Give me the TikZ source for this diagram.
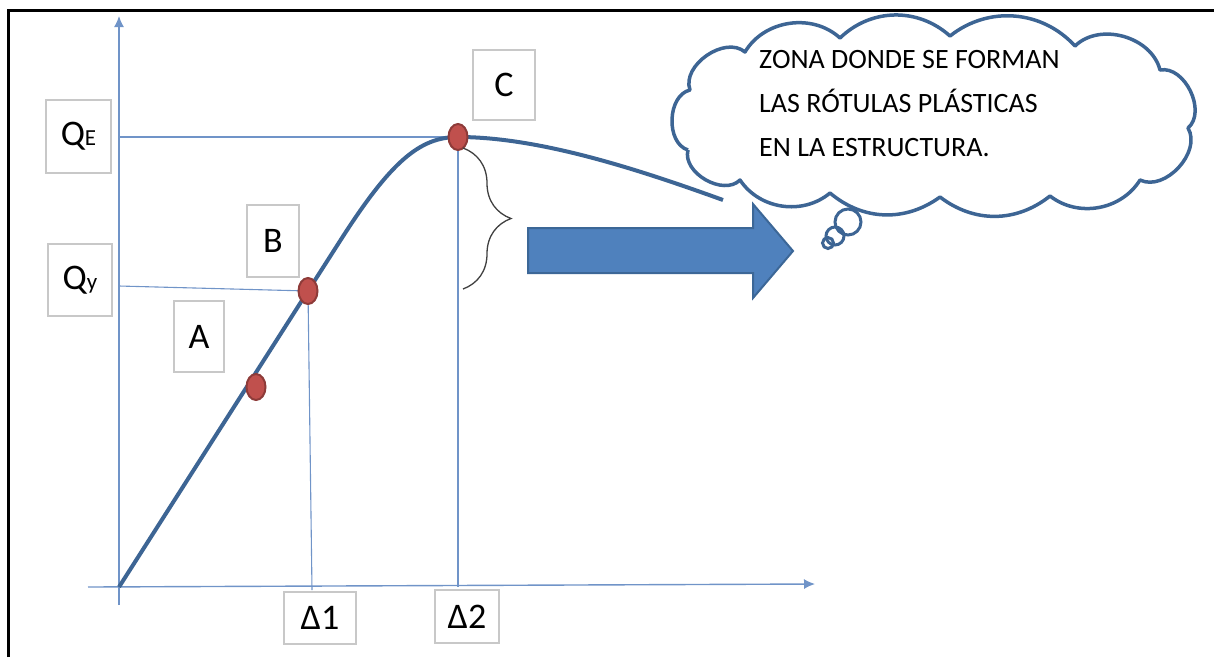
\documentclass[tikz,border=0pt]{standalone}
\usepackage{fontspec}
\setmainfont{Carlito}
\usetikzlibrary{arrows.meta,shapes.geometric,decorations.pathreplacing}
\definecolor{axisblue}{HTML}{7094C8}
\definecolor{curveblue}{HTML}{3D6594}
\definecolor{fillblue}{HTML}{4F81BD}
\definecolor{arrowedge}{HTML}{3C6797}
\definecolor{dotred}{HTML}{C0504D}
\definecolor{dotedge}{HTML}{8E3B39}
\definecolor{boxgray}{HTML}{C8C8C8}
\definecolor{bracegray}{HTML}{404040}

\begin{document}
\begin{tikzpicture}[x=1pt, y=-1pt,
    axis/.style={axisblue, line width=1.4pt, -{Latex[length=11pt,width=10pt]}},
    guide/.style={axisblue, line width=1.1pt},
    curve/.style={curveblue, line width=4pt},
    hinge/.style={ellipse, fill=dotred, draw=dotedge, line width=2pt,
        minimum width=19pt, minimum height=26pt, inner sep=0pt},
    labelbox/.style={draw=boxgray, line width=1.5pt, fill=white, inner sep=0pt,
        font=\fontsize{36}{40}\selectfont},
    bubble/.style={circle, draw=curveblue, line width=3pt, inner sep=0pt},
    cloudline/.style={curveblue, line width=3.5pt, line join=round},
]
    \newcommand\subfnt{\fontsize{23}{24}\selectfont}

    \useasboundingbox (0,0) rectangle (1214,657);

    % frame
    \draw[line width=3pt] (8.5,657) -- (8.5,10) -- (1214,10);

    % axes
    \coordinate (O) at (119,587);
    \coordinate (ybot) at (119,605);
    \coordinate (ytop) at (119,16);
    \coordinate (xleft) at (88,587);
    \coordinate (xright) at (815,584);
    \draw[axis] (ybot) -- (ytop);
    \draw[axis] (xleft) -- (xright);

    % points on the curve
    \coordinate (c1) at (256,387);
    \coordinate (c2) at (308,291);
    \coordinate (c3) at (458,137);

    % guide lines
    \draw[guide] (O |- c3) -- (c3);
    \draw[guide] (119,286) -- (c2);
    \draw[guide] (c2) -- (312,590);
    \draw[guide] (c3) -- (c3 |- O);

    % capacity curve
    \draw[curve] (O) -- (c2) -- (340,241)
        .. controls (391,161) and (420,137) .. (c3)
        .. controls (540,137) and (640,170) .. (723,200);

    \node[hinge] (pA) at (c1) {};
    \node[hinge] (pB) at (c2) {};
    \node[hinge] (pC) at (c3) {};

    % labels
    \node[labelbox, minimum width=65pt, minimum height=73pt] (qe) at (78.5,136.5) {Q{\subfnt E}};
    \node[labelbox, minimum width=64pt, minimum height=72pt] (qy) at (80,280) {Q{\subfnt y}};
    \node[labelbox, minimum width=52pt, minimum height=72pt] (lb) at (273,241) {B};
    \node[labelbox, minimum width=50pt, minimum height=71pt] (la) at (199,336.5) {A};
    \node[labelbox, minimum width=62pt, minimum height=70pt] (lc) at (504,85) {C};
    \node[labelbox, minimum width=72pt, minimum height=52pt] (d1) at (320,618) {Δ1};
    \node[labelbox, minimum width=64pt, minimum height=53pt] (d2) at (467,616.5) {Δ2};

    % brace
    \draw[bracegray, line width=1.3pt, decorate, decoration={brace, amplitude=48pt}]
        (463,148) -- (463,289);

    % block arrow
    \filldraw[fill=fillblue, draw=arrowedge, line width=2pt]
        (528,228) -- (753,228) -- (753,204) -- (793,251)
        -- (753,298) -- (753,273) -- (528,273) -- cycle;

    % cloud
    \draw[cloudline] (688,150) to[bend left=75] (690,90)
        to[bend left=75] (745,52) to[bend left=51] (840,38)
        to[bend left=43] (950,36) to[bend left=43] (1075,46)
        to[bend left=60] (1160,70) to[bend left=75] (1188,128)
        to[bend left=73] (1140,180) to[bend left=48] (1050,196)
        to[bend left=38] (940,197) to[bend left=38] (830,193)
        to[bend left=48] (740,180) to[bend left=75] (688,150);
    \node[anchor=north west, inner sep=0pt, align=left,
        font=\fontsize{28}{44}\selectfont] (nota) at (759,50)
        {ZONA DONDE SE FORMAN\\LAS RÓTULAS PLÁSTICAS\\EN LA ESTRUCTURA.};
    \node[bubble, minimum size=26pt] (b1) at (848,222) {};
    \node[bubble, minimum size=18pt] (b2) at (835,236) {};
    \node[bubble, minimum size=11pt] (b3) at (828,243) {};
\end{tikzpicture}
\end{document}
